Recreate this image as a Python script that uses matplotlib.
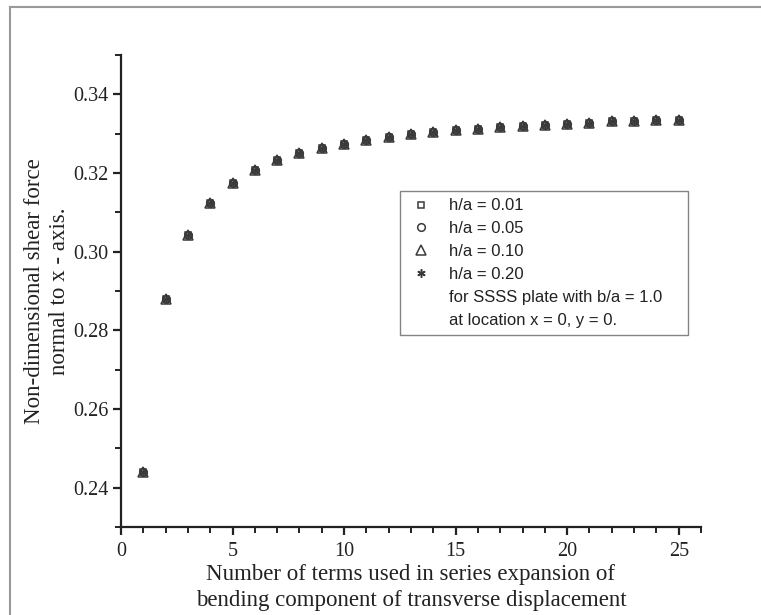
import matplotlib
matplotlib.use("Agg")
import matplotlib.pyplot as plt
from matplotlib.lines import Line2D
from matplotlib.ticker import MultipleLocator

# number of terms in the series expansion
n_terms = list(range(1, 26))

# shear force (all four h/a curves coincide)
shear_ha_001 = [0.2439, 0.2879, 0.3042, 0.3125, 0.3175, 0.3208, 0.3232, 0.3250,
                0.3264, 0.3274, 0.3284, 0.3291, 0.3298, 0.3305, 0.3310, 0.3313,
                0.3316, 0.3319, 0.3322, 0.3325, 0.3328, 0.3331, 0.3333, 0.3334,
                0.3336]
shear_ha_005 = list(shear_ha_001)
shear_ha_010 = list(shear_ha_001)
shear_ha_020 = list(shear_ha_001)

series_labels = ["h/a = 0.01", "h/a = 0.05", "h/a = 0.10", "h/a = 0.20"]
note_lines = ["for SSSS plate with b/a = 1.0", "at location x = 0, y = 0."]

x_ticks = [0, 5, 10, 15, 20, 25]
y_ticks = [0.24, 0.26, 0.28, 0.30, 0.32, 0.34]

serif = ["Liberation Serif", "DejaVu Serif"]
sans = ["Liberation Sans", "DejaVu Sans"]

fig = plt.figure(figsize=(7.61, 6.15), dpi=100)
ax = fig.add_axes([121 / 761, 1 - 527 / 615, 580 / 761, 472 / 615])

markers = ["s", "o", "^", (6, 2, 0)]
sizes = [4.5, 5.5, 7.5, 6]
all_series = [shear_ha_001, shear_ha_005, shear_ha_010, shear_ha_020]
handles = []
for vals, m, ms, lab in zip(all_series, markers, sizes, series_labels):
    h, = ax.plot(n_terms, vals, linestyle="none", marker=m, markersize=ms,
                 markerfacecolor="none", markeredgecolor="#3a3a3a",
                 markeredgewidth=1.1, label=lab)
    handles.append(h)

# text-only legend rows (trailing spaces widen the box like the original)
for txt in note_lines:
    handles.append(Line2D([], [], linestyle="none", marker=None, label=txt))
handles[4].set_label(note_lines[0] + "    ")

ax.set_xlim(0, 26)
ax.set_ylim(0.23, 0.35)
ax.set_xticks(x_ticks)
ax.set_yticks(y_ticks)
ax.xaxis.set_minor_locator(MultipleLocator(1))
ax.yaxis.set_minor_locator(MultipleLocator(0.01))
ax.set_yticklabels([f"{v:.2f}" for v in y_ticks])

for side in ["top", "right"]:
    ax.spines[side].set_visible(False)
for side in ["left", "bottom"]:
    ax.spines[side].set_linewidth(1.6)
    ax.spines[side].set_color("#222222")

ax.tick_params(which="major", direction="out", length=6, width=1.6,
               labelsize=14.5, colors="#222222", pad=3)
ax.tick_params(axis="x", which="major", pad=5)
ax.tick_params(which="minor", direction="out", length=4, width=1.4,
               colors="#222222")
for lbl in ax.get_xticklabels() + ax.get_yticklabels():
    lbl.set_family(serif)

ax.set_xlabel("Number of terms used in series expansion of\n"
              "bending component of transverse displacement",
              family=serif, fontsize=16.5, color="#222222", labelpad=2,
              linespacing=1.3)
ax.set_ylabel("Non-dimensional shear force\nnormal to x - axis.",
              family=serif, fontsize=16.5, color="#222222", labelpad=2,
              linespacing=1.25)

leg = ax.legend(handles=handles, loc="upper left",
                bbox_to_anchor=(0.481, 0.712), borderaxespad=0,
                prop={"family": sans, "size": 12}, frameon=True,
                fancybox=False, edgecolor="#666666", labelspacing=0.47,
                handlelength=1.6, handletextpad=0.9, borderpad=0.45)
leg.get_frame().set_linewidth(1.0)
for t in leg.get_texts():
    t.set_color("#222222")

# grey frame lines along the top and left of the figure
fig.add_artist(Line2D([10 / 761, 1], [1 - 7 / 615, 1 - 7 / 615],
                      transform=fig.transFigure, color="#999999", linewidth=1.5))
fig.add_artist(Line2D([10 / 761, 10 / 761], [0, 1 - 7 / 615],
                      transform=fig.transFigure, color="#999999", linewidth=1.5))

fig.savefig("out.png", dpi=100)
